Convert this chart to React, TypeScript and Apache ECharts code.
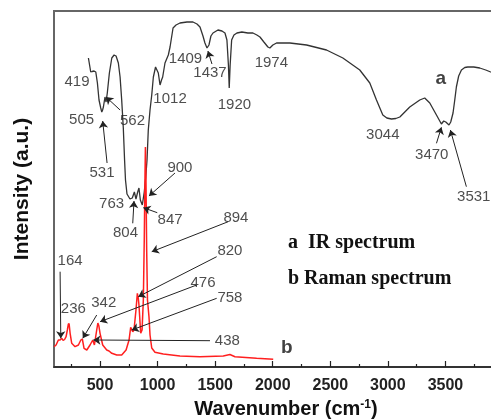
import React, { useEffect, useRef } from "react";
import * as echarts from "echarts";

// IR spectrum (curve a): wavenumber (cm-1) and intensity (a.u.)
const irWavenumber = [399, 419, 431, 448, 463, 477, 491, 506, 515, 522, 529, 543, 552, 563, 581, 602, 622, 639, 659, 674, 688, 702, 713, 721, 734, 760, 780, 798, 812, 827, 838, 850, 867, 884, 897, 908, 919, 934, 949, 963, 982, 1006, 1021, 1034, 1044, 1064, 1093, 1108, 1134, 1160, 1194, 1255, 1307, 1342, 1368, 1394, 1411, 1429, 1446, 1463, 1481, 1524, 1559, 1585, 1602, 1615, 1622, 1630, 1643, 1663, 1689, 1732, 1784, 1828, 1862, 1889, 1923, 1958, 1975, 2001, 2033, 2149, 2294, 2467, 2609, 2756, 2843, 2901, 2956, 2991, 3031, 3069, 3104, 3190, 3277, 3320, 3364, 3422, 3465, 3485, 3503, 3531, 3546, 3566, 3581, 3595, 3615, 3639, 3668, 3694, 3746, 3798, 3850, 3893, 3945];
const irIntensity = [309, 295, 295.5, 296, 295, 284, 267, 259, 255, 257, 260, 270, 265, 274, 294, 309, 312, 311, 304, 290, 267, 239, 207, 187, 173, 168, 169, 175, 168, 175, 179, 167, 162, 175, 190, 207, 237, 257, 272, 290, 300, 294, 282, 287, 290, 304, 312, 320, 339, 342, 344, 345, 345, 343, 340, 331, 324, 319, 322, 331, 334, 337, 336, 334, 327, 302, 279, 302, 327, 332, 334, 335, 334, 334, 332, 330, 325, 320, 319, 322, 324, 324, 322, 317, 309, 297, 284, 267, 252, 249, 248, 248.5, 250, 260, 267, 269, 264, 252, 243, 246, 245, 242, 245, 254, 267, 280, 291, 297, 299.5, 300, 300, 299, 297, 295, 293];

// Raman spectrum (curve b)
const ramanWavenumber = [101, 118, 138, 153, 168, 179, 192, 205, 216, 225, 231, 240, 254, 283, 312, 333, 346, 361, 385, 413, 437, 451, 471, 481, 490, 500, 523, 558, 578, 602, 645, 688, 726, 752, 766, 784, 795, 812, 824, 832, 838, 853, 865, 876, 884, 891, 894, 898, 905, 912, 925, 934, 949, 977, 1049, 1194, 1368, 1570, 1628, 1672, 1860, 2004];
const ramanIntensity = [20.3, 22, 27, 27, 28.7, 26.5, 27.5, 30.3, 37, 43, 43.5, 33.7, 23.7, 20.3, 22, 27, 28, 18.7, 17, 22, 27, 22, 37, 44, 41, 33.7, 22, 17, 16, 13.7, 12, 12, 17, 27, 39.7, 35.3, 37, 57, 73.7, 69, 62, 33.7, 37, 67, 127, 197, 220, 197, 117, 67, 50.3, 32, 19, 14.7, 13, 11, 10.3, 11, 12.5, 10.3, 8.7, 7.7];

// Axis ticks
const majorTicks = [500, 1000, 1500, 2000, 2500, 3000, 3500];
const minorTicks = [250, 750, 1250, 1750, 2250, 2750, 3250, 3750];

// Peak annotations: label text, label anchor (wavenumber, intensity)
const peakLabels = [
  { text: "419", w: 300, y: 287 },
  { text: "505", w: 340, y: 249 },
  { text: "562", w: 782, y: 248 },
  { text: "531", w: 517, y: 195.5 },
  { text: "1012", w: 1108, y: 270 },
  { text: "1409", w: 1242, y: 309.5 },
  { text: "1437", w: 1455, y: 295.5 },
  { text: "1920", w: 1667, y: 263.5 },
  { text: "1974", w: 1988, y: 305.5 },
  { text: "3044", w: 2956, y: 234 },
  { text: "3470", w: 3381, y: 213.5 },
  { text: "3531", w: 3746, y: 172 },
  { text: "763", w: 600, y: 164.5 },
  { text: "804", w: 721, y: 136 },
  { text: "847", w: 1108, y: 149 },
  { text: "900", w: 1194, y: 201 },
  { text: "894", w: 1680, y: 151 },
  { text: "820", w: 1628, y: 118 },
  { text: "476", w: 1394, y: 86 },
  { text: "758", w: 1628, y: 71 },
  { text: "438", w: 1606, y: 28 },
  { text: "342", w: 532, y: 66 },
  { text: "236", w: 268, y: 59.5 },
  { text: "164", w: 240, y: 108 },
];
const curveLabels = [
  { text: "a", w: 3459, y: 290 },
  { text: "b", w: 2123, y: 21 },
];
// Arrows: from (w1,y1) to (w2,y2)
const arrows = [
  [674, 257, 552, 270],
  [561, 204, 523, 246],
  [1472, 303, 1437, 316],
  [3422, 223.7, 3465, 239.7],
  [3682, 180.3, 3543, 237],
  [784, 143.7, 795, 166],
  [997, 154.3, 876, 159.3],
  [1151, 194, 925, 171],
  [1613, 145.3, 949, 115.3],
  [1513, 110.3, 832, 70.3],
  [1339, 82, 500, 45.3],
  [1513, 68.7, 775, 37],
  [1455, 26.3, 442, 27],
  [471, 52, 350, 28.7],
  [153, 95.3, 159, 28.7],
];

const SANS = "'Liberation Sans', Arial, Helvetica, sans-serif";
const SERIF = "'Liberation Serif', 'Times New Roman', serif";

export default function App() {
  const ref = useRef<HTMLDivElement>(null);
  useEffect(() => {
    if (!ref.current) return;
    const chart = echarts.init(ref.current, undefined, { renderer: "svg" });
    const irData = irWavenumber.map((w, i) => [w, irIntensity[i]]);
    const ramanData = ramanWavenumber.map((w, i) => [w, ramanIntensity[i]]);
    const labelData = [
      ...peakLabels.map((p) => ({ value: [p.w, p.y], name: p.text })),
      ...curveLabels.map((p) => ({
        value: [p.w, p.y],
        name: p.text,
        label: { fontWeight: "bold", fontSize: 19, color: "#111" },
      })),
    ];
    chart.setOption({
      animation: false,
      grid: {
        left: 54,
        top: 11,
        right: 0,
        bottom: 52,
        show: true,
        borderColor: "#666",
        borderWidth: 2,
        backgroundColor: "transparent",
      },
      xAxis: [
        {
          type: "value",
          min: 100,
          max: 4000,
          position: "bottom",
          axisLine: { show: true, onZero: false, lineStyle: { color: "#222", width: 1.5 } },
          axisTick: { show: true, inside: true, length: 6, customValues: majorTicks, lineStyle: { color: "#222", width: 1.2 } },
          axisLabel: {
            show: true,
            customValues: majorTicks,
            formatter: (v: number) => String(v),
            margin: 9,
            fontSize: 16,
            fontWeight: "bold",
            color: "#222",
            fontFamily: SANS,
          },
          splitLine: { show: false },
        },
        {
          type: "value",
          min: 100,
          max: 4000,
          position: "bottom",
          axisLine: { show: false },
          axisTick: { show: true, inside: true, length: 3, customValues: minorTicks, lineStyle: { color: "#222", width: 1.2 } },
          axisLabel: { show: false, customValues: minorTicks },
          splitLine: { show: false },
        },
      ],
      yAxis: {
        type: "value",
        min: 0,
        max: 356,
        axisLine: { show: false },
        axisTick: { show: false },
        axisLabel: { show: false },
        splitLine: { show: false },
      },
      graphic: [
        {
          type: "text",
          x: 20,
          y: 189,
          rotation: Math.PI / 2,
          style: {
            text: "Intensity (a.u.)",
            fontSize: 21,
            fontWeight: "bold",
            fontFamily: SANS,
            fill: "#111",
            textAlign: "center",
            textVerticalAlign: "middle",
          },
        },
        {
          type: "text",
          x: 286,
          y: 408,
          style: {
            text: "{t|Wavenumber (cm}{s|-1}{t|)}",
            textAlign: "center",
            textVerticalAlign: "middle",
            rich: {
              t: { fontSize: 20, fontWeight: "bold", fill: "#111", fontFamily: SANS, verticalAlign: "bottom" },
              s: { fontSize: 12, fontWeight: "bold", fill: "#111", fontFamily: SANS, verticalAlign: "top" },
            },
          },
        },
        {
          type: "text",
          x: 288,
          y: 240.5,
          style: {
            text: "a  IR spectrum",
            fontSize: 20,
            fontWeight: "bold",
            fontFamily: SERIF,
            fill: "#111",
            textAlign: "left",
            textVerticalAlign: "middle",
          },
        },
        {
          type: "text",
          x: 288,
          y: 276.5,
          style: {
            text: "b Raman spectrum",
            fontSize: 20,
            fontWeight: "bold",
            fontFamily: SERIF,
            fill: "#111",
            textAlign: "left",
            textVerticalAlign: "middle",
          },
        },
      ],
      series: [
        {
          name: "IR spectrum",
          type: "line",
          data: irData,
          showSymbol: false,
          symbol: "none",
          lineStyle: { color: "#333", width: 1.3 },
          z: 3,
        },
        {
          name: "Raman spectrum",
          type: "line",
          data: ramanData,
          showSymbol: false,
          symbol: "none",
          lineStyle: { color: "#ff1f1f", width: 1.5 },
          z: 4,
        },
        {
          name: "labels",
          type: "scatter",
          data: labelData,
          symbolSize: 1,
          itemStyle: { color: "rgba(0,0,0,0)" },
          label: {
            show: true,
            position: "inside",
            formatter: "{b}",
            fontSize: 15,
            color: "#222",
            fontFamily: SANS,
          },
          silent: true,
          z: 5,
          markLine: {
            silent: true,
            symbol: ["none", "arrow"],
            symbolSize: 7,
            label: { show: false },
            lineStyle: { color: "#222", width: 1, type: "solid" },
            data: arrows.map((a) => [{ coord: [a[0], a[1]] }, { coord: [a[2], a[3]] }]),
          },
        },
      ],
    });
    return () => chart.dispose();
  }, []);
  return <div ref={ref} style={{ position: "fixed", left: 0, top: 0, width: 503, height: 419 }} />;
}
